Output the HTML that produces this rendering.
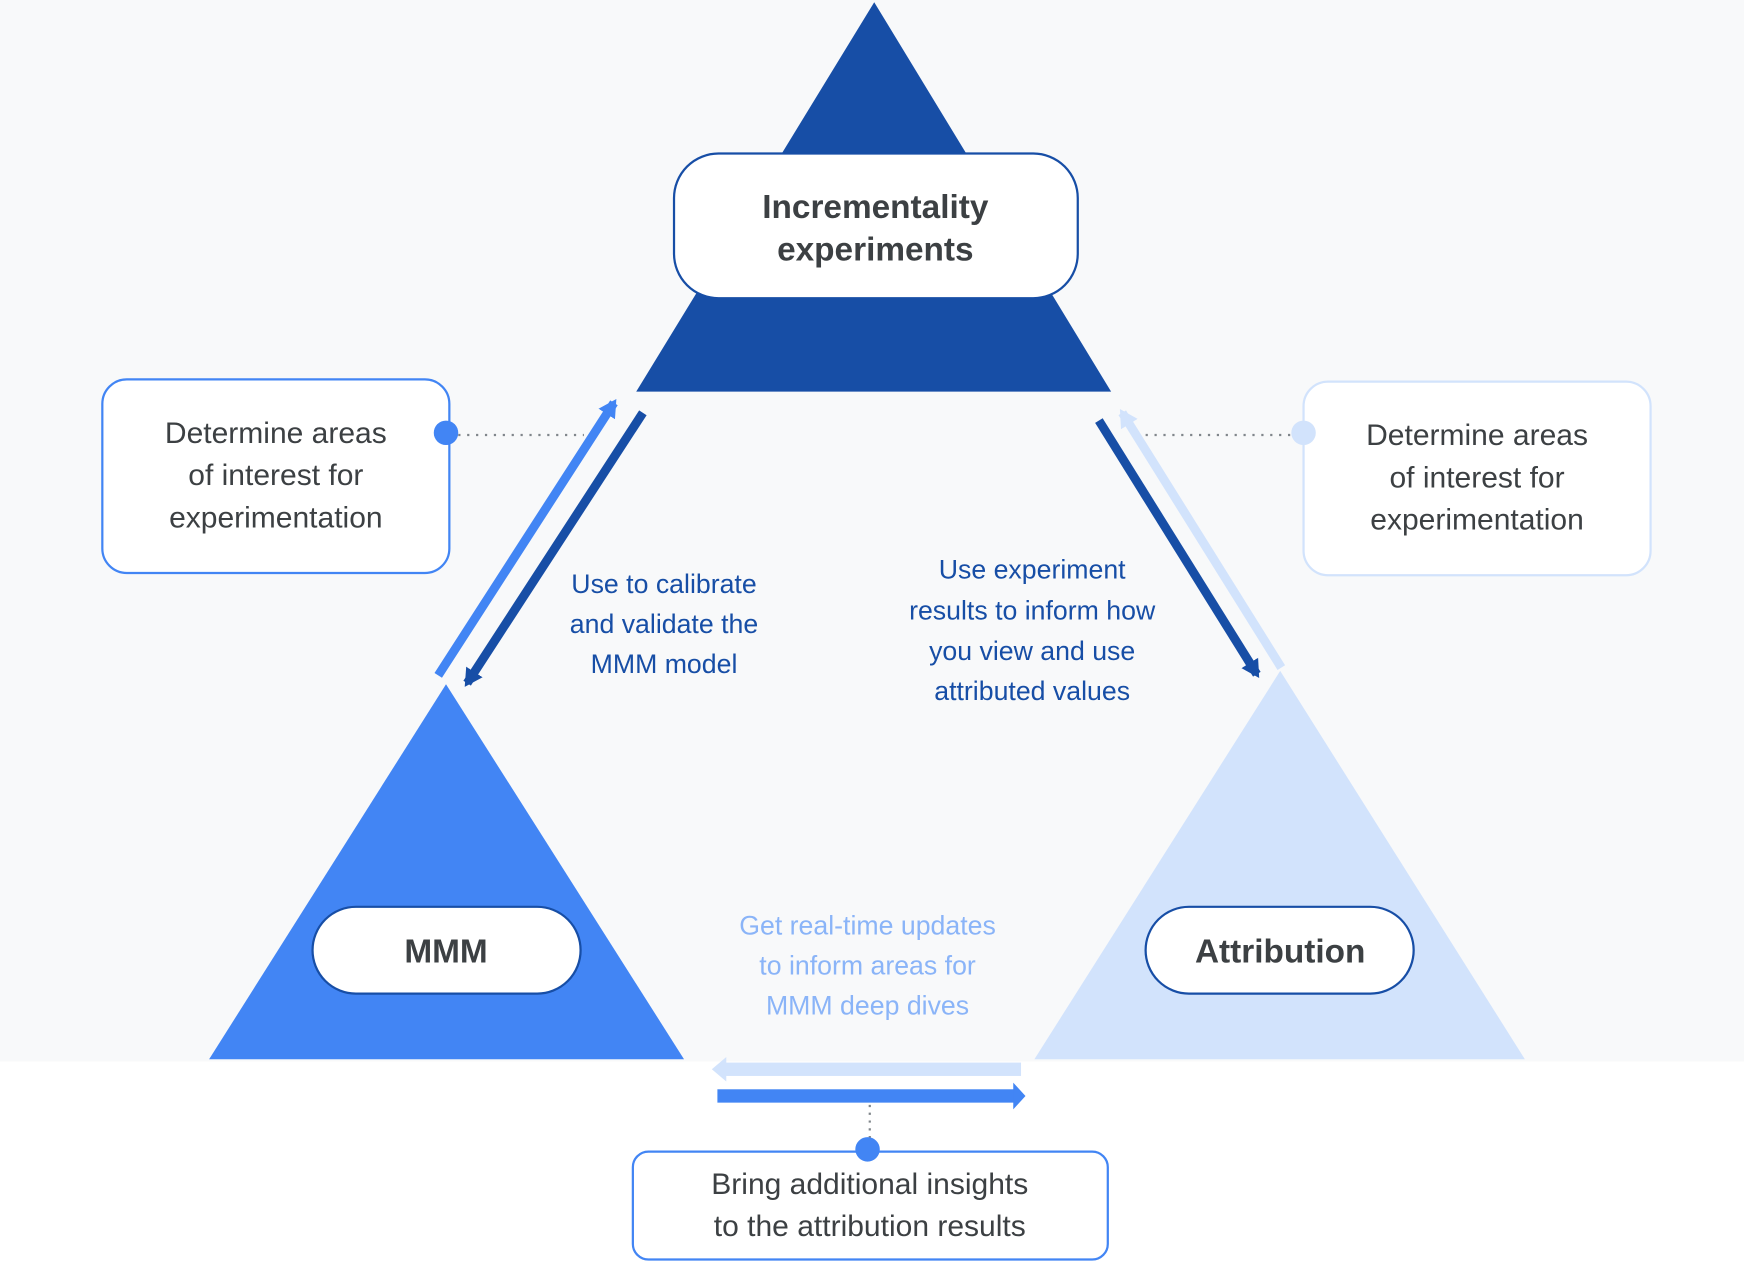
<!DOCTYPE html>
<html><head><meta charset="utf-8"><style>html,body{margin:0;padding:0;background:#fff}svg{display:block}</style></head>
<body>
<svg width="1744" height="1284" viewBox="0 0 1568 1154" preserveAspectRatio="none" xmlns="http://www.w3.org/2000/svg" font-family="Liberation Sans, sans-serif">
<rect x="0" y="0" width="1568" height="954" fill="#f8f9fa"/>
<rect x="0" y="954" width="1568" height="200" fill="#fff"/>
<polygon points="786,2 999,352 572,352" fill="#174ea6"/>
<polygon points="401,615 615,952 188,952" fill="#4285f4"/>
<polygon points="1151,603 1371,952 930,952" fill="#d2e3fc"/>
<rect x="606" y="138" width="363" height="130" rx="40" fill="#fff" stroke="#174ea6" stroke-width="2"/>
<text x="787" y="196" text-anchor="middle" font-size="30" font-weight="bold" fill="#3c4043">Incrementality</text>
<text x="787" y="234" text-anchor="middle" font-size="30" font-weight="bold" fill="#3c4043">experiments</text>
<rect x="281" y="815" width="241" height="78" rx="39" fill="#fff" stroke="#174ea6" stroke-width="2"/>
<text x="401" y="865" text-anchor="middle" font-size="30" font-weight="bold" fill="#3c4043">MMM</text>
<rect x="1030" y="815" width="241" height="78" rx="39" fill="#fff" stroke="#174ea6" stroke-width="2"/>
<text x="1151" y="865" text-anchor="middle" font-size="30" font-weight="bold" fill="#3c4043">Attribution</text>
<line x1="412" y1="391" x2="525" y2="391" stroke="#80868b" stroke-width="2" stroke-dasharray="2,6"/>
<rect x="92" y="341" width="312" height="174" rx="22" fill="#fff" stroke="#4285f4" stroke-width="2"/>
<circle cx="401" cy="389" r="11" fill="#4285f4"/>
<g font-size="27" fill="#3c4043" text-anchor="middle">
<text x="248" y="398">Determine areas</text>
<text x="248" y="436">of interest for</text>
<text x="248" y="474">experimentation</text>
</g>
<line x1="1030" y1="391" x2="1160" y2="391" stroke="#80868b" stroke-width="2" stroke-dasharray="2,6"/>
<rect x="1172" y="343" width="312" height="174" rx="22" fill="#fff" stroke="#d2e3fc" stroke-width="2"/>
<circle cx="1172" cy="389" r="11" fill="#d2e3fc"/>
<g font-size="27" fill="#3c4043" text-anchor="middle">
<text x="1328" y="400">Determine areas</text>
<text x="1328" y="438">of interest for</text>
<text x="1328" y="476">experimentation</text>
</g>
<defs>
<marker id="mb" markerWidth="4" markerHeight="4" refX="1.5" refY="2" orient="auto" markerUnits="strokeWidth"><path d="M0,0.9 L2,2 L0,3.1Z" fill="#4285f4"/></marker>
<marker id="md" markerWidth="4" markerHeight="4" refX="1.5" refY="2" orient="auto" markerUnits="strokeWidth"><path d="M0,0.9 L2,2 L0,3.1Z" fill="#174ea6"/></marker>
<marker id="ml" markerWidth="4" markerHeight="4" refX="1.5" refY="2" orient="auto" markerUnits="strokeWidth"><path d="M0,0.9 L2,2 L0,3.1Z" fill="#d2e3fc"/></marker>
</defs>
<line x1="394" y1="607" x2="552" y2="362" stroke="#4285f4" stroke-width="8" marker-end="url(#mb)"/>
<line x1="578" y1="371" x2="420" y2="614" stroke="#174ea6" stroke-width="8" marker-end="url(#md)"/>
<line x1="988" y1="378" x2="1130" y2="606" stroke="#174ea6" stroke-width="8" marker-end="url(#md)"/>
<line x1="1152" y1="600" x2="1009" y2="371" stroke="#d2e3fc" stroke-width="8" marker-end="url(#ml)"/>
<g font-size="24" fill="#174ea6" text-anchor="middle">
<text x="597" y="533">Use to calibrate</text>
<text x="597" y="569">and validate the</text>
<text x="597" y="605">MMM model</text>
<text x="928" y="520">Use experiment</text>
<text x="928" y="557">results to inform how</text>
<text x="928" y="593">you view and use</text>
<text x="928" y="629">attributed values</text>
</g>
<g font-size="24" fill="#8ab4f8" text-anchor="middle">
<text x="780" y="840">Get real-time updates</text>
<text x="780" y="876">to inform areas for</text>
<text x="780" y="912">MMM deep dives</text>
</g>
<rect x="652" y="955" width="266" height="12" fill="#d2e3fc"/>
<polygon points="640,961 653,950 653,972" fill="#d2e3fc"/>
<rect x="645" y="979" width="268" height="12" fill="#4285f4"/>
<polygon points="922,985 911,973 911,997" fill="#4285f4"/>
<line x1="782" y1="993" x2="782" y2="1025" stroke="#80868b" stroke-width="2" stroke-dasharray="2,5"/>
<rect x="569" y="1035" width="427" height="97" rx="14" fill="#fff" stroke="#4285f4" stroke-width="2"/>
<circle cx="780" cy="1033" r="11" fill="#4285f4"/>
<text x="782" y="1073" text-anchor="middle" font-size="27" fill="#3c4043">Bring additional insights</text>
<text x="782" y="1111" text-anchor="middle" font-size="27" fill="#3c4043">to the attribution results</text>
</svg>
</body></html>
